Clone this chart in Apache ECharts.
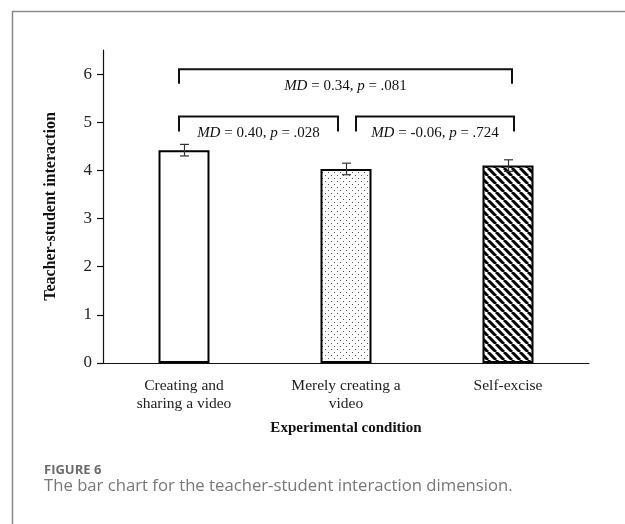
<!DOCTYPE html>
<html>
<head>
<meta charset="utf-8">
<script src="https://cdn.jsdelivr.net/npm/echarts@6/dist/echarts.min.js"></script>
<style>
  html, body { margin: 0; padding: 0; background: #fff; }
  #chart { width: 625px; height: 524px; }
</style>
</head>
<body>
<div id="chart"></div>
<script>
const categories = ['Creating and\nsharing a video', 'Merely creating a\nvideo', 'Self-excise']
const means = [4.42, 4.03, 4.10]
const errLow = [4.30, 3.91, 3.98]
const errHigh = [4.54, 4.15, 4.22]
const yTicks = [0, 1, 2, 3, 4, 5, 6]
// [from category, to category, bracket top, leg bottom, text value]
const brackets = [
  [0, 2, 6.10, 5.80, 'MD|0.34|.081'],
  [0, 1, 5.12, 4.81, 'MD|0.40|.028'],
  [1, 2, 5.12, 4.81, 'MD|-0.06|.724']
]

function dotPattern() {
  const c = document.createElement('canvas')
  c.width = 6
  c.height = 6
  const ctx = c.getContext('2d')
  ctx.fillStyle = '#fff'
  ctx.fillRect(0, 0, 6, 6)
  ctx.fillStyle = '#555'
  ctx.fillRect(1, 1, 1, 1)
  ctx.fillRect(4, 4, 1, 1)
  return c
}

function hatchPattern() {
  const s = 8
  const c = document.createElement('canvas')
  c.width = s
  c.height = s
  const ctx = c.getContext('2d')
  ctx.fillStyle = '#fff'
  ctx.fillRect(0, 0, s, s)
  ctx.strokeStyle = '#000'
  ctx.lineWidth = 3
  for (let k = -1; k <= 1; k++) {
    ctx.beginPath()
    ctx.moveTo(k * s, 0)
    ctx.lineTo(k * s + s, s)
    ctx.stroke()
  }
  return c
}

const fills = ['#fff', { image: dotPattern(), repeat: 'repeat' }, { image: hatchPattern(), repeat: 'repeat' }]
const serif = '"Liberation Serif", "Times New Roman", serif'

// pixel offsets of bracket ends from bar centres
const bracketOffsets = {
  '0-2': [-5, 4],
  '0-1': [-5, -8],
  '1-2': [10, 6]
}

const chart = echarts.init(document.getElementById('chart'))
chart.setOption({
  animation: false,
  graphic: [
    {
      type: 'polyline',
      shape: { points: [[12.5, 524], [12.5, 11.5], [625, 11.5]] },
      style: { stroke: '#8a8a8a', lineWidth: 1.5, fill: null }
    }
  ],
  title: [
    {
      text: 'FIGURE 6',
      left: 39,
      top: 459,
      textStyle: { fontFamily: '"Open Sans", "Noto Sans", sans-serif', fontSize: 13, fontWeight: 'bold', color: '#6b6b6b' }
    },
    {
      text: 'The bar chart for the teacher-student interaction dimension.',
      left: 39,
      top: 473,
      textStyle: { fontFamily: '"Open Sans", "Noto Sans", sans-serif', fontSize: 16.7, fontWeight: 'normal', color: '#777' }
    }
  ],
  grid: { left: 103, right: 36, top: 50, bottom: 161 },
  xAxis: {
    type: 'category',
    data: categories,
    name: 'Experimental condition',
    nameLocation: 'middle',
    nameGap: 58,
    nameTextStyle: { fontFamily: serif, fontSize: 15, fontWeight: 'bold', color: '#111' },
    axisLine: { lineStyle: { color: '#111', width: 1.2 } },
    axisTick: { inside: true, length: 7, lineStyle: { color: '#111', width: 1.2 } },
    axisLabel: { fontFamily: serif, fontSize: 15.5, color: '#222', lineHeight: 18, margin: 14, interval: 0 }
  },
  yAxis: {
    type: 'value',
    min: 0,
    max: 6.5,
    interval: 1,
    name: 'Teacher-student interaction',
    nameLocation: 'middle',
    nameGap: 44,
    nameTextStyle: { fontFamily: serif, fontSize: 16, fontWeight: 'bold', color: '#111' },
    splitLine: { show: false },
    axisLine: { show: true, lineStyle: { color: '#111', width: 1.2 } },
    axisTick: { show: true, length: 6, customValues: yTicks, lineStyle: { color: '#111', width: 1.2 } },
    axisLabel: { fontFamily: serif, fontSize: 17, color: '#222', margin: 11, customValues: yTicks }
  },
  series: [
    {
      type: 'bar',
      barWidth: 51,
      data: means.map((v, i) => ({ value: v, itemStyle: { color: fills[i] } })),
      itemStyle: { borderColor: '#000', borderWidth: 2 },
      z: 2
    },
    {
      type: 'custom',
      data: means.map((v, i) => [i, errLow[i], errHigh[i]]),
      z: 3,
      renderItem(params, api) {
        const lo = api.coord([api.value(0), api.value(1)])
        const hi = api.coord([api.value(0), api.value(2)])
        const x = Math.round(lo[0]) + 0.5
        const w = 4.5
        const style = { stroke: '#333', lineWidth: 1.2 }
        return {
          type: 'group',
          children: [
            { type: 'line', shape: { x1: x, y1: lo[1], x2: x, y2: hi[1] }, style },
            { type: 'line', shape: { x1: x - w, y1: lo[1], x2: x + w, y2: lo[1] }, style },
            { type: 'line', shape: { x1: x - w, y1: hi[1], x2: x + w, y2: hi[1] }, style }
          ]
        }
      }
    },
    {
      type: 'custom',
      data: brackets,
      z: 4,
      renderItem(params, api) {
        const b = brackets[params.dataIndex]
        const off = bracketOffsets[b[0] + '-' + b[1]]
        const a = api.coord([b[0], b[2]])
        const c = api.coord([b[1], b[2]])
        const leg = api.coord([b[0], b[3]])
        const x0 = a[0] + off[0]
        const x1 = c[0] + off[1]
        const y = a[1]
        const parts = b[4].split('|')
        return {
          type: 'group',
          children: [
            {
              type: 'polyline',
              shape: { points: [[x0, leg[1]], [x0, y], [x1, y], [x1, leg[1]]] },
              style: { stroke: '#111', lineWidth: 2, fill: null }
            },
            {
              type: 'text',
              x: (x0 + x1) / 2,
              y: y + 17,
              style: {
                text: '{i|' + parts[0] + '} = ' + parts[1] + ', {i|p} = ' + parts[2],
                align: 'center',
                verticalAlign: 'middle',
                fontFamily: serif,
                fontSize: 15,
                fill: '#111',
                rich: { i: { fontStyle: 'italic', fontFamily: serif, fontSize: 15, fill: '#111' } }
              }
            }
          ]
        }
      }
    }
  ]
})
</script>
</body>
</html>
